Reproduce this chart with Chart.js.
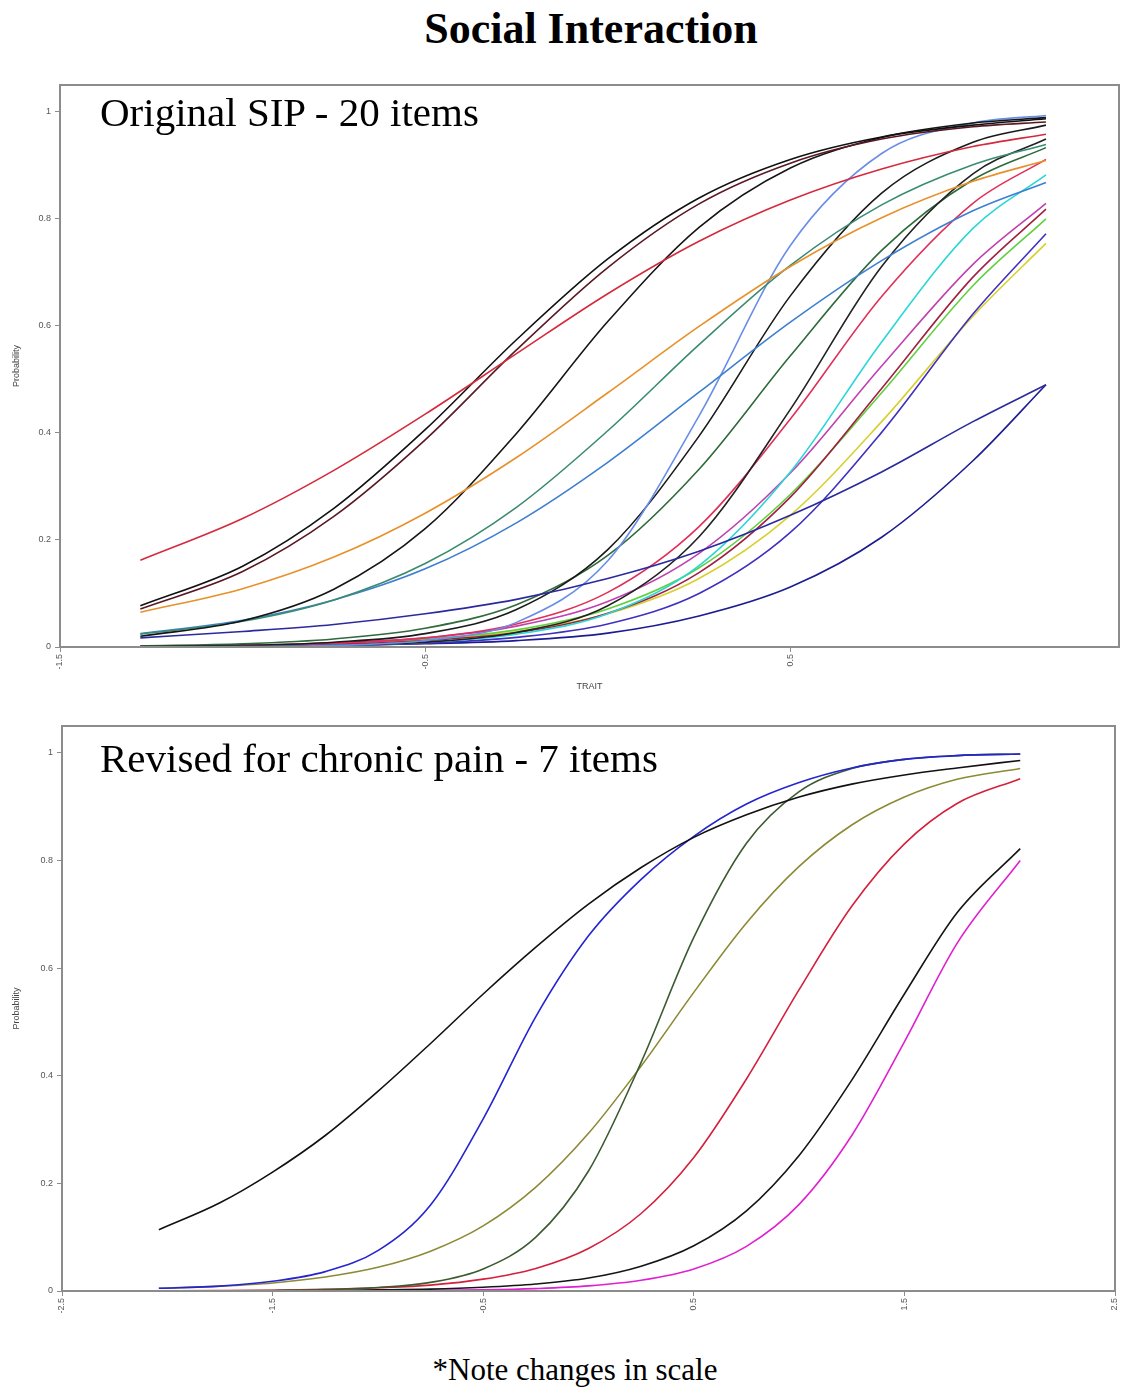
<!DOCTYPE html>
<html><head><meta charset="utf-8">
<script src="https://cdn.jsdelivr.net/npm/chart.js@4/dist/chart.umd.min.js"></script>
<style>
html,body{margin:0;padding:0;background:#fff;}
body{width:1121px;height:1391px;position:relative;overflow:hidden;font-family:"Liberation Serif","Times New Roman",serif;}
.t{position:absolute;white-space:nowrap;color:#000;line-height:1;}
#title{left:0;width:1182px;text-align:center;top:7px;font-weight:bold;font-size:44px;}
#lab1{left:100px;top:92px;font-size:41px;}
#lab2{left:100px;top:738px;font-size:41px;}
#note{left:0;width:1150px;text-align:center;top:1354px;font-size:31px;}
canvas{position:absolute;left:0;}
#c1{top:80px;}
#c2{top:720px;}
</style></head>
<body>
<canvas id="c1" width="1121" height="630"></canvas>
<canvas id="c2" width="1121" height="620"></canvas>
<div class="t" id="title">Social Interaction</div>
<div class="t" id="lab1">Original SIP - 20 items</div>
<div class="t" id="lab2">Revised for chronic pain - 7 items</div>
<div class="t" id="note">*Note changes in scale</div>
<script>
// ---------- Top panel: Original SIP - 20 items ----------
const traitTop = [-1.28,-1.0,-0.75,-0.5,-0.25,0,0.25,0.5,0.75,1.0,1.2];
const sip01 = [0.162,0.24,0.33,0.435,0.548,0.66,0.758,0.835,0.893,0.935,0.958];
const sip02 = [0.077,0.151,0.259,0.406,0.574,0.725,0.839,0.911,0.953,0.975,0.987];
const sip03 = [0.071,0.141,0.244,0.387,0.555,0.709,0.828,0.904,0.949,0.972,0.981];
const sip04 = [0.065,0.109,0.168,0.25,0.354,0.475,0.599,0.711,0.802,0.87,0.909];
const sip05 = [0.02,0.049,0.108,0.221,0.399,0.608,0.784,0.895,0.952,0.979,0.989];
const sip06 = [0.024,0.048,0.088,0.156,0.261,0.404,0.565,0.713,0.826,0.901,0.939];
const sip07 = [0.025,0.05,0.088,0.146,0.232,0.345,0.476,0.607,0.722,0.815,0.868];
const sip08 = [0.017,0.029,0.042,0.062,0.089,0.128,0.179,0.246,0.327,0.421,0.49];
const sip09 = [0.0002,0.0008,0.003,0.012,0.046,0.161,0.432,0.75,0.922,0.979,0.993];
const sip10 = [0.001,0.003,0.009,0.025,0.07,0.182,0.394,0.656,0.848,0.943,0.975];
const sip11 = [0.0003,0.001,0.003,0.009,0.027,0.077,0.206,0.444,0.711,0.884,0.949];
const sip12 = [0.002,0.006,0.015,0.035,0.079,0.171,0.332,0.544,0.741,0.873,0.933];
const sip13 = [0.001,0.003,0.007,0.017,0.043,0.102,0.225,0.426,0.655,0.829,0.911];
const sip14 = [0.0004,0.001,0.003,0.009,0.024,0.062,0.152,0.327,0.57,0.782,0.882];
const sip15 = [0.001,0.003,0.008,0.017,0.039,0.085,0.175,0.325,0.525,0.715,0.829];
const sip16 = [0.001,0.002,0.005,0.012,0.027,0.063,0.139,0.28,0.483,0.691,0.818];
const sip17 = [0.001,0.003,0.006,0.015,0.032,0.071,0.148,0.285,0.475,0.675,0.80];
const sip18 = [0.0005,0.001,0.003,0.007,0.018,0.043,0.10,0.214,0.401,0.622,0.772];
const sip19 = [0.001,0.003,0.006,0.013,0.029,0.062,0.128,0.246,0.421,0.618,0.754];
const sip20 = [0.001,0.001,0.003,0.006,0.012,0.026,0.058,0.112,0.205,0.348,0.49];
const topTicksX = [-1.5,-0.5,0.5];

// ---------- Bottom panel: Revised for chronic pain - 7 items ----------
const traitBottom = [-2.04,-1.75,-1.5,-1.25,-1,-0.75,-0.5,-0.25,0,0.25,0.5,0.75,1,1.25,1.5,1.75,2.05];
const rev1 = [0.114,0.164,0.221,0.289,0.371,0.46,0.552,0.639,0.719,0.787,0.843,0.885,0.918,0.942,0.959,0.972,0.986];
const rev2 = [0.005,0.009,0.018,0.036,0.075,0.16,0.32,0.51,0.66,0.765,0.845,0.905,0.945,0.972,0.988,0.995,0.998];
const rev3 = [0.0001,0.0004,0.001,0.0025,0.0064,0.016,0.041,0.10,0.223,0.425,0.657,0.832,0.928,0.971,0.988,0.995,0.998];
const rev4 = [0.005,0.009,0.015,0.026,0.044,0.074,0.121,0.193,0.293,0.418,0.555,0.684,0.789,0.866,0.918,0.951,0.971];
const rev5 = [0.0004,0.0008,0.0015,0.003,0.006,0.011,0.022,0.042,0.079,0.144,0.248,0.394,0.56,0.715,0.831,0.906,0.952];
const rev6 = [0.0001,0.0003,0.0005,0.001,0.002,0.0035,0.007,0.013,0.024,0.046,0.084,0.149,0.252,0.392,0.552,0.703,0.822];
const rev7 = [0,0.0001,0.0001,0.0002,0.0005,0.001,0.002,0.0045,0.0095,0.02,0.041,0.083,0.161,0.289,0.463,0.646,0.80];
const bottomTicksX = [-2.5,-1.5,-0.5,0.5,1.5,2.5];
const probTicks = [0,0.2,0.4,0.6,0.8,1];

// ---------- styling ----------
const topSeries = [sip01,sip02,sip03,sip04,sip05,sip06,sip07,sip08,sip09,sip10,sip11,sip12,sip13,sip14,sip15,sip16,sip17,sip18,sip19,sip20];
const topColors = ['#d42a3c','#111111','#5a1822','#e8902a','#151515','#3a8c70','#3d7fd0','#2a2a9e','#6a8ee8','#1a1a1a','#222222','#2f6a3a','#e0305a','#2ad6d6','#c040b0','#a02040','#60d040','#4030c0','#d8d030','#1c1c90'];
const bottomSeries = [rev1,rev2,rev3,rev4,rev5,rev6,rev7];
const bottomColors = ['#111111','#2424d0','#3c5a30','#8c8a34','#d4203c','#151515','#e020d0'];

function buildSets(xs, series, colors){
  return series.map((vals,k)=>({
    data: xs.map((x,i)=>({x:x, y:vals[i]})),
    borderColor: colors[k], borderWidth: 1.6, pointRadius: 0,
    cubicInterpolationMode: 'monotone', fill: false
  }));
}
const framePlugin = {id:'frame', afterDatasetsDraw(chart){
  const {ctx, chartArea:a} = chart;
  ctx.save(); ctx.strokeStyle='#8c8c8c'; ctx.lineWidth=2;
  ctx.strokeRect(a.left, a.top, a.right-a.left, a.bottom-a.top);
  ctx.restore();
}};
function makeChart(id, xs, series, colors, xmin, xmax, xticks, yWidth, xHeight, pad, xTitle){
  return new Chart(document.getElementById(id), {
    type: 'line',
    data: {datasets: buildSets(xs, series, colors)},
    plugins: [framePlugin],
    options: {
      responsive:false, animation:false, devicePixelRatio:1,
      layout:{padding:pad},
      plugins:{legend:{display:false}, tooltip:{enabled:false}},
      scales:{
        x:{type:'linear', min:xmin, max:xmax,
           afterBuildTicks:s=>{s.ticks = xticks.map(v=>({value:v}));},
           afterFit:s=>{s.height = xHeight; s.paddingLeft = 0; s.paddingRight = 0;},
           grid:{display:true, drawOnChartArea:false, drawTicks:true, tickLength:5, color:'#8c8c8c', lineWidth:1},
           border:{display:false},
           ticks:{autoSkip:false, minRotation:90, maxRotation:90, padding:2, color:'#555', font:{family:'Liberation Sans, Arial', size:9}, callback:v=>String(v)},
           title:{display:!!xTitle, text:xTitle||'', color:'#444', font:{family:'Liberation Sans, Arial', size:9}, padding:{top:0,bottom:18}}
        },
        y:{type:'linear', min:0, max:1.05,
           afterBuildTicks:s=>{s.ticks = probTicks.map(v=>({value:v}));},
           afterFit:s=>{s.width = yWidth; s.paddingTop = 0; s.paddingBottom = 0;},
           grid:{display:true, drawOnChartArea:false, drawTicks:true, tickLength:5, color:'#8c8c8c', lineWidth:1},
           border:{display:false},
           ticks:{padding:4, color:'#555', font:{family:'Liberation Sans, Arial', size:9}, callback:v=>String(Math.round(v*10)/10)},
           title:{display:true, text:'Probability', color:'#444', font:{family:'Liberation Sans, Arial', size:9}, padding:{top:11,bottom:0}}
        }
      }
    }
  });
}
makeChart('c1', traitTop, topSeries, topColors, -1.5, 1.4, topTicksX, 60, 63, {top:5,right:2,left:0,bottom:0}, 'TRAIT');
makeChart('c2', traitBottom, bottomSeries, bottomColors, -2.5, 2.5, bottomTicksX, 62, 49, {top:6,right:6,left:0,bottom:0}, null);
</script>
</body></html>
